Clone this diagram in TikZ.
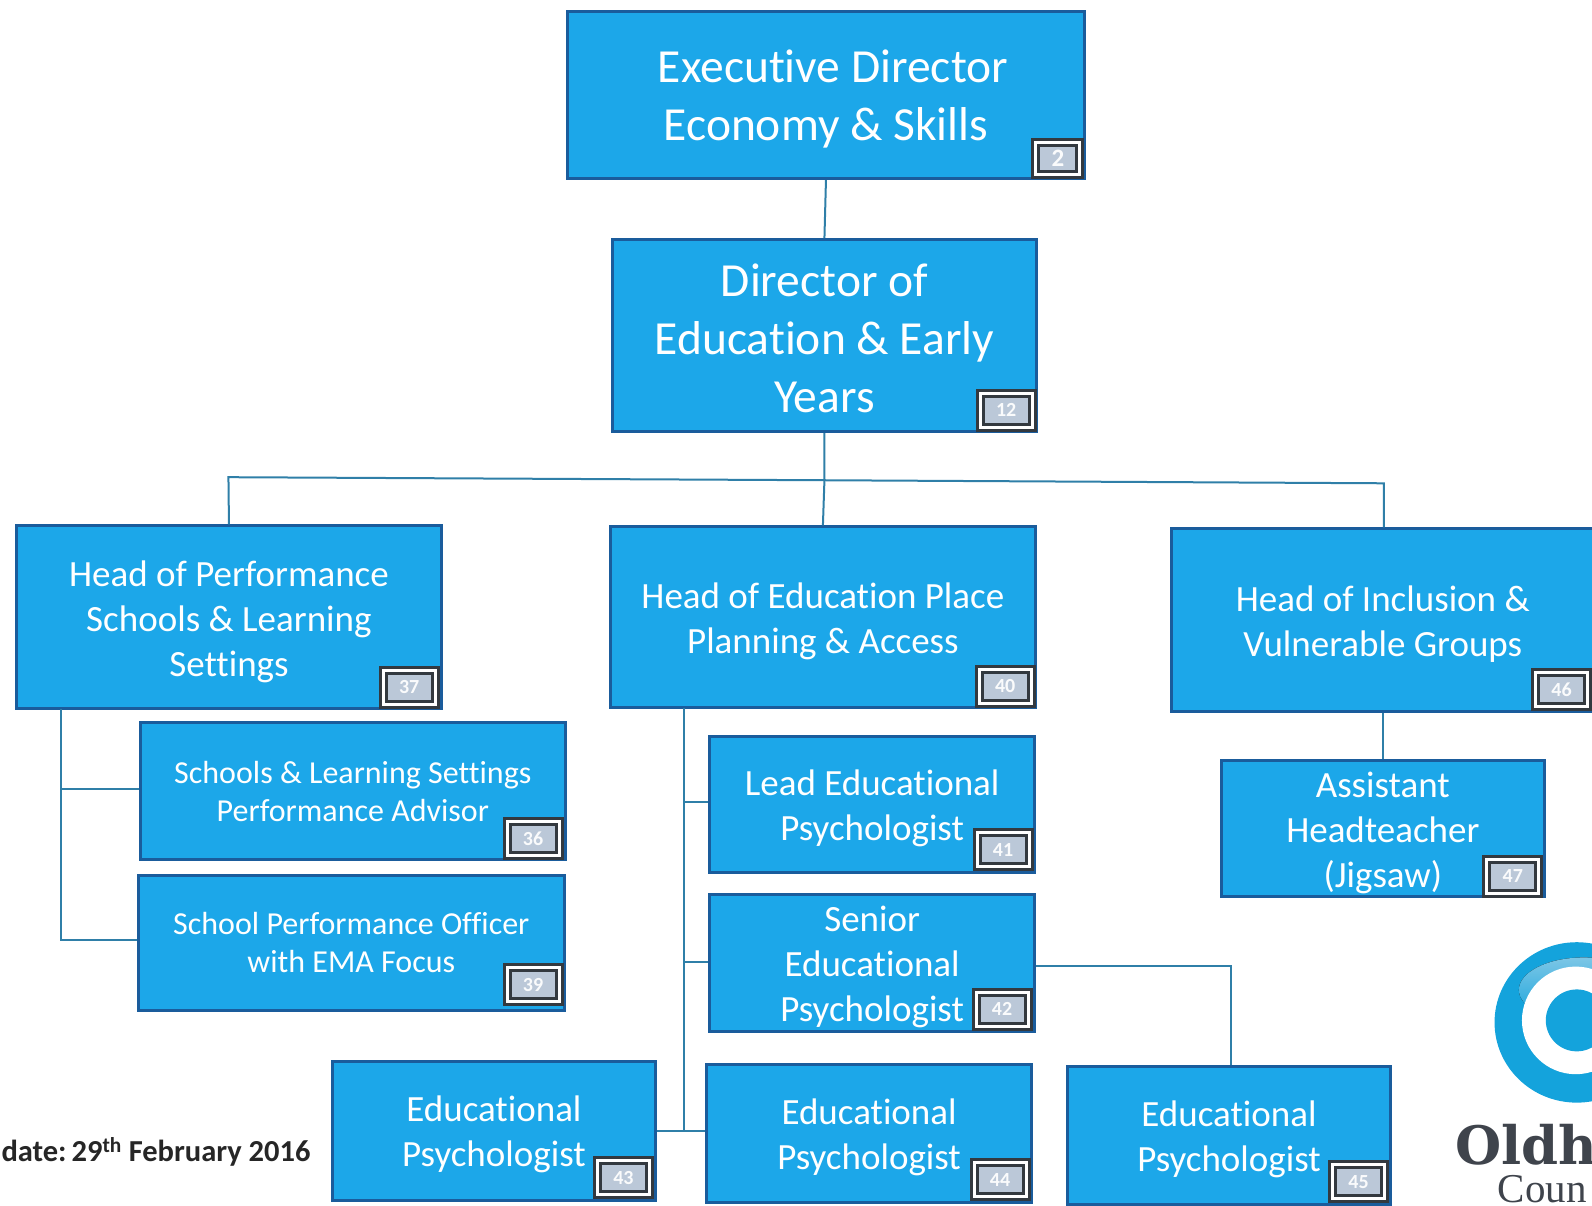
\documentclass[tikz,border=0pt]{standalone}
\usepackage{fontspec}
\setmainfont[Ligatures={NoCommon}]{Carlito}
\newfontfamily\logoserif{DejaVu Serif}
\newfontfamily\logolight{Liberation Serif}
\definecolor{boxfill}{HTML}{1CA7E9}
\definecolor{boxedge}{HTML}{1A5C9C}
\definecolor{tagfill}{HTML}{BBC8D8}
\definecolor{tagedge}{HTML}{33393F}
\definecolor{linkcol}{HTML}{2F7FA8}
\definecolor{logoblue}{HTML}{14A3DC}
\definecolor{logolite}{HTML}{7CC6E6}
\definecolor{logotext}{HTML}{3F444C}
\newcommand\padtext{}
\tikzset{
  orgbox/.style={draw=boxedge,fill=boxfill,line width=3pt,inner sep=0pt,align=center,text=white},
  tagbox/.style={draw=tagedge,double=white,double distance=3pt,line width=3pt,fill=tagfill,inner sep=0pt,text=white!92!tagfill,font=\bfseries\fontsize{20}{20}\selectfont},
  tagsize/.style={minimum width=52pt,minimum height=34pt},
  link/.style={draw=linkcol,line width=2pt},
  huge text/.style={font=\fontsize{47.5}{58}\selectfont\def\padtext{\rule{0pt}{.85em}}},
  huger text/.style={font=\fontsize{47.5}{58}\selectfont\def\padtext{\rule{0pt}{.79em}}},
  big text/.style={font=\fontsize{37}{45}\selectfont\def\padtext{\rule{0pt}{.92em}}},
  mid text/.style={font=\fontsize{32}{38.5}\selectfont},
}
\newcommand\orgunit[9]{%
  \node[orgbox,#6,minimum width={(#4-#2)*1.0153*1pt},minimum height={(#5-#3)*1.0153*1pt}]
    (#1) at ({(#2+#4)/2},{(#3+#5)/2}) {\padtext #7};
  \node[tagbox,tagsize] (#1tag) at (#8) {#9};
}
\begin{document}
\begin{tikzpicture}[x=1.0153pt,y=-1.0153pt]
\useasboundingbox (0,0) rectangle (1568,1187.8);
\clip (0,0) rectangle (1568,1187.8);

\begin{scope}[tagsize/.style={minimum width=44pt,minimum height=32pt},
  tagbox/.append style={font=\bfseries\fontsize{25}{25}\selectfont}]
\orgunit{exec}{559}{11}{1068}{176}{huge text}{\hspace*{14pt}Executive Director\\Economy \& Skills}{1042,156}{2}
\end{scope}
\orgunit{dir}{603}{236}{1021}{425}{huger text}{Director of\\Education \& Early\\Years}{991,404}{12}
\orgunit{perf}{16}{518}{435}{698}{big text}{Head of Performance\\Schools \& Learning\\Settings}{403,677}{37}
\orgunit{place}{601}{519}{1020}{697}{big text}{Head of Education Place\\Planning \& Access}{990,676}{40}
\orgunit{incl}{1154}{521}{1570}{701}{big text}{Head of Inclusion \&\\Vulnerable Groups}{1538,679}{46}
\orgunit{schools}{138}{712}{557}{847}{mid text}{Schools \& Learning Settings\\Performance Advisor}{525,826}{36}
\orgunit{officer}{136}{862}{556}{995}{mid text}{School Performance Officer\\with EMA Focus}{525,970}{39}
\orgunit{lead}{699}{725}{1019}{859}{big text}{Lead Educational\\Psychologist}{988,837}{41}
\orgunit{senior}{699}{881}{1019}{1016}{big text}{Senior\\Educational\\Psychologist}{987,994}{42}
\orgunit{assist}{1203}{749}{1521}{883}{big text}{Assistant\\Headteacher\\(Jigsaw)}{1490,863}{47}
\orgunit{epa}{327}{1045}{646}{1182}{big text}{Educational\\Psychologist}{614,1160}{43}
\orgunit{epb}{696}{1048}{1016}{1184}{big text}{Educational\\Psychologist}{985,1162}{44}
\orgunit{epc}{1051}{1050}{1370}{1186}{big text}{Educational\\Psychologist}{1338,1164}{45}

\coordinate (busL) at (225,470);
\coordinate (busM) at (812,473);
\coordinate (busR) at (1363,476);
\coordinate (trunkLtop) at (60,698);
\coordinate (joinL) at (60,777);
\coordinate (trunkLbot) at (60,926);
\coordinate (trunkMtop) at (674,697);
\coordinate (joinA) at (674,790);
\coordinate (joinB) at (674,947);
\coordinate (trunkMbot) at (674,1114);
\coordinate (elbowS) at (1212,951);

\draw[link] (exec.south) -- (dir.north);
\draw[link] (dir.south) -- (busM) -- (place.north);
\draw[link] (perf.north) -- (busL) -- (busM) -- (busR) -- (incl.north -| busR);
\draw[link] (trunkLtop) -- (trunkLbot) -- (trunkLbot -| officer.west);
\draw[link] (joinL) -- (joinL -| schools.west);
\draw[link] (trunkMtop) -- (trunkMbot);
\draw[link] (joinA) -- (joinA -| lead.west);
\draw[link] (joinB) -- (joinB -| senior.west);
\draw[link] (trunkMbot -| epa.east) -- (trunkMbot -| epb.west);
\draw[link] (elbowS -| senior.east) -- (elbowS) -- (elbowS |- epc.north);
\draw[link] (incl.south -| assist.north) -- (assist.north);

\node[anchor=east,inner sep=0pt,text=black!85,font=\bfseries\fontsize{30.5}{36}\selectfont] (datenote) at (306,1135) {date:\hspace{5pt}29\textsuperscript{th} February 2016};

\fill[logoblue] (1553,1007) ellipse (81 and 79);
\fill[top color=logolite,bottom color=logoblue] (1560,975) ellipse (64 and 32);
\fill[white] (1552,1005) ellipse (53 and 53);
\fill[logoblue] (1553,1005) ellipse (30.5 and 30.5);
\node[anchor=base west,inner sep=0pt,text=logotext,font=\logoserif\bfseries\fontsize{53}{53}\selectfont] (logoa) at (1433,1147) {Oldh};
\node[anchor=base west,inner sep=0pt,text=logotext,font=\logolight\fontsize{41}{41}\selectfont] (logob) at (1475,1184) {Coun};
\end{tikzpicture}
\end{document}
